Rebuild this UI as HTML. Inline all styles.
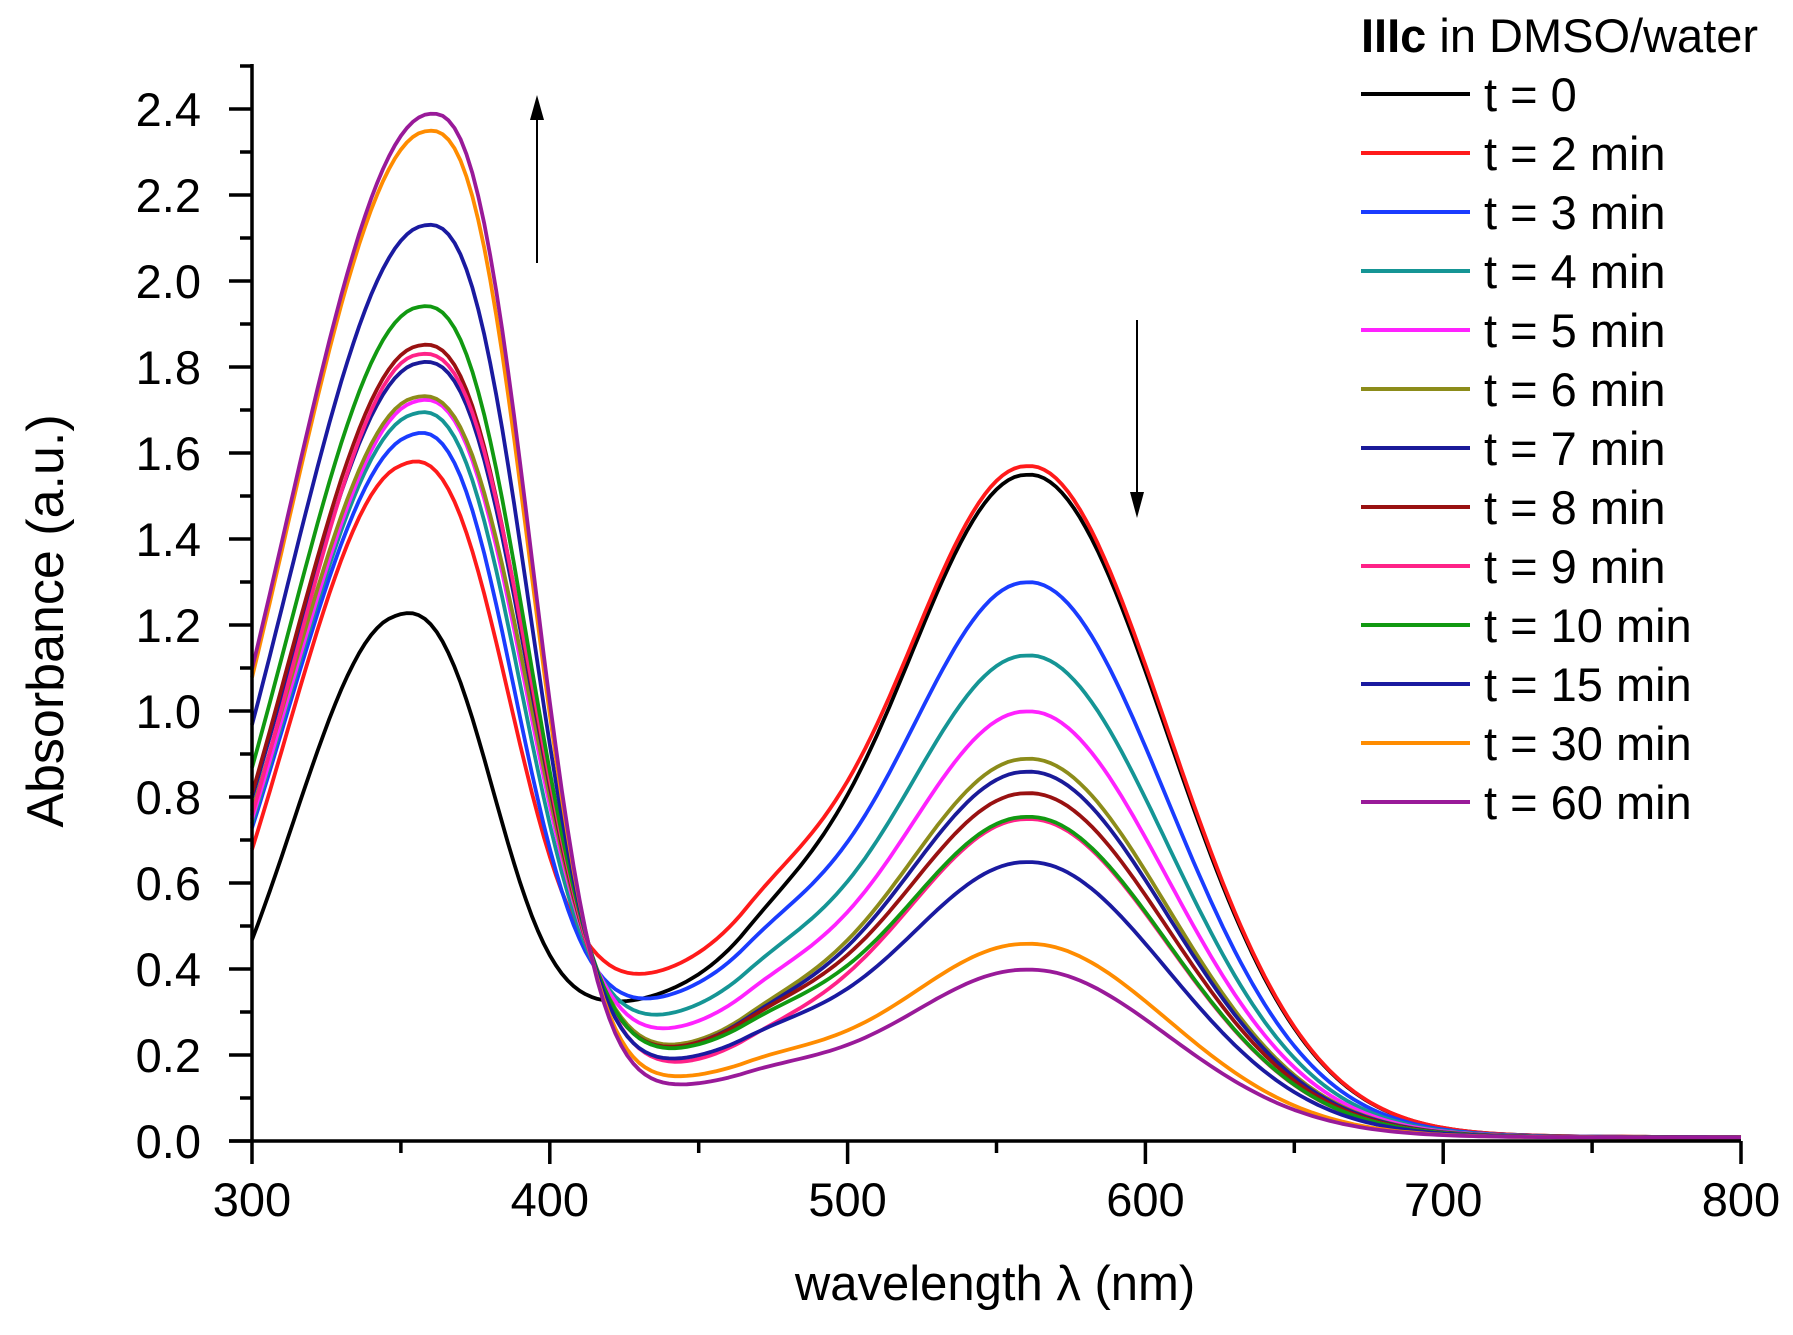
<!DOCTYPE html>
<html><head><meta charset="utf-8"><style>
html,body{margin:0;padding:0;background:#fff}
svg{display:block;font-family:"Liberation Sans",Arial,sans-serif}
</style></head><body>
<svg id="s" width="1793" height="1335" viewBox="0 0 1793 1335" xmlns="http://www.w3.org/2000/svg">
<g id="curves" fill="none" stroke-width="3.8" stroke-linejoin="round"></g>
<g stroke="#000" stroke-width="3.5" fill="none">
<line x1="252" y1="64" x2="252" y2="1141"/>
<line x1="229" y1="1141" x2="1741" y2="1141"/>
</g>
<g id="ticks" stroke="#000" stroke-width="3.5"></g>
<g id="labels" font-size="47" fill="#000"></g>
<text x="995" y="1300" font-size="49" text-anchor="middle">wavelength λ (nm)</text>
<text transform="translate(63,621) rotate(-90)" font-size="52" text-anchor="middle">Absorbance (a.u.)</text>
<g stroke="#000" stroke-width="2">
<line x1="537" y1="263" x2="537" y2="112"/>
<line x1="1137" y1="320" x2="1137" y2="500"/>
</g>
<polygon points="537,95 530,120 544,120" fill="#000"/>
<polygon points="1137,518 1130,492 1144,492" fill="#000"/>
<text x="1361" y="52" font-size="47"><tspan font-weight="bold">IIIc</tspan> in DMSO/water</text>
<g id="legend" font-size="47"></g>
</svg>
<script>
const X=l=>252+(l-300)*2.978, Y=v=>1141-430*v;
const C=[
["#000000","t = 0",0.46,1.21,347,0.38,1.54,0.33],
["#ff1a1a","t = 2 min",0.67,1.56,349,0.43,1.56,0.45],
["#1a3cff","t = 3 min",0.72,1.63,352,0.36,1.29,0.42],
["#159595","t = 4 min",0.73,1.68,353,0.31,1.12,0.43],
["#ff22ff","t = 5 min",0.74,1.71,354,0.27,0.99,0.44],
["#8c8c1a","t = 6 min",0.76,1.72,354,0.225,0.88,0.44],
["#1a1a99","t = 7 min",0.79,1.80,355,0.22,0.85,0.44],
["#991111","t = 8 min",0.80,1.84,355,0.22,0.80,0.44],
["#ff2288","t = 9 min",0.75,1.82,355,0.18,0.74,0.44],
["#119911","t = 10 min",0.86,1.93,355,0.215,0.745,0.45],
["#1a1aa0","t = 15 min",0.96,2.12,357,0.19,0.64,0.45],
["#ff8c00","t = 30 min",1.07,2.34,358,0.145,0.45,0.45],
["#991a99","t = 60 min",1.09,2.38,359,0.125,0.39,0.45]];
let out="",leg="";
C.forEach((c,i)=>{
 const [col,lab,a300,P1,c1,pl,P2,T413]=c;
 const b2=l=>{const d=l-560;const s=d<0?46:47;return P2*(Math.exp(-0.5*(d/s)**2)+(d>0?0.02*Math.exp(-d/70)*(1-Math.exp(-d/30)):0));};
 const h=Math.max(0.03,pl-b2(450));
 const sh=l=>{if(l<420)return h*Math.exp(-0.5*((l-420)/60)**2);if(l<466)return h;return h*Math.exp(-0.5*((l-466)/28)**2);};
 const A1=P1-sh(c1)-b2(c1);
 const sl=(c1-300)/Math.sqrt(-2*Math.log(Math.max(0.05,(a300-sh(300)-b2(300))/A1)));
 const p=2.6;
 let r=(T413-sh(413)-b2(413))/A1; r=Math.max(r,0.01);
 const sr=(413-c1)/Math.pow(-2*Math.log(r),1/p);
 const uv=l=>{const d=l-c1;return d<0?A1*Math.exp(-0.5*(d/sl)**2):A1*Math.exp(-0.5*Math.pow(d/sr,p));};
 let pts=[];
 for(let l=300;l<=800;l+=2){pts.push(X(l).toFixed(1)+","+Y(uv(l)+sh(l)+b2(l)+0.008).toFixed(1));}
 out+=`<polyline stroke="${col}" points="${pts.join(" ")}"/>`;
 const y=94+i*59;
 leg+=`<line x1="1361" y1="${y}" x2="1470" y2="${y}" stroke="${col}" stroke-width="4"/><text x="1484" y="${y+17}">${lab}</text>`;
});
document.getElementById("curves").innerHTML=out;
document.getElementById("legend").innerHTML=leg;
let t="",lb="";
for(let k=0;k<=25;k++){const y=Y(k/10);t+=`<line x1="${k%2==0?229:240}" y1="${y}" x2="252" y2="${y}"/>`;
 if(k%2==0)lb+=`<text x="201" y="${y+17}" text-anchor="end">${(k/10).toFixed(1)}</text>`;}
for(let l=300;l<=800;l+=50){const x=X(l);t+=`<line x1="${x}" y1="1141" x2="${x}" y2="${l%100==0?1164:1153}"/>`;
 if(l%100==0)lb+=`<text x="${x}" y="1216" text-anchor="middle">${l}</text>`;}
document.getElementById("ticks").innerHTML=t;
document.getElementById("labels").innerHTML=lb;
</script>
</body></html>
